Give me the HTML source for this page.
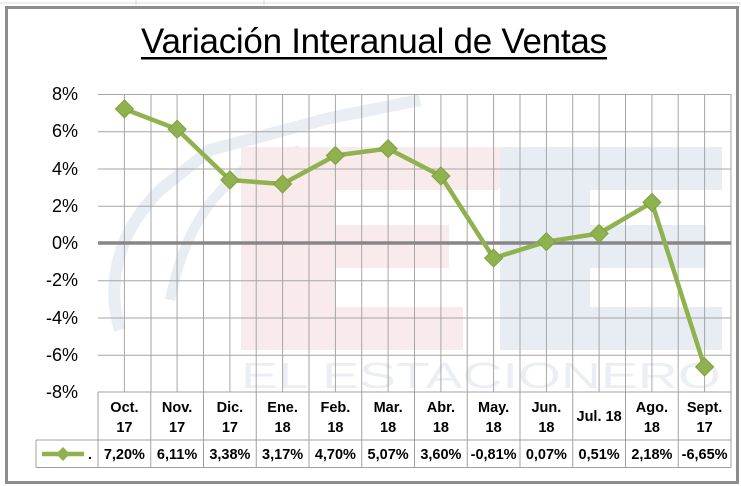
<!DOCTYPE html>
<html><head><meta charset="utf-8"><style>
html,body{margin:0;padding:0;background:#fff;width:741px;height:486px;overflow:hidden}
</style></head><body>
<svg width="741" height="486" viewBox="0 0 741 486" xmlns="http://www.w3.org/2000/svg" font-family="'Liberation Sans', sans-serif">
<rect x="0" y="0" width="741" height="486" fill="#fff"/>
<g stroke="#dcdcdc" stroke-width="1">
<line x1="0" y1="3" x2="741" y2="3"/><line x1="136" y1="0" x2="136" y2="7"/><line x1="264" y1="0" x2="264" y2="7"/>
</g>
<rect x="6.5" y="7.5" width="731" height="475" fill="#fff" stroke="#8c8c8c" stroke-width="3"/>
<text x="374" y="53" font-size="35" text-anchor="middle" textLength="466" lengthAdjust="spacing">Variación  Interanual  de  Ventas</text>
<rect x="141" y="57" width="466" height="2.5" fill="#000"/>
<!-- watermark -->
<g opacity="0.5">
<path d="M120,330 C105,280 120,230 160,190 L210,150 L330,118 L420,100" fill="none" stroke="#d3dcea" stroke-width="12"/>
<path d="M170,300 C180,250 200,200 250,165 L300,150" fill="none" stroke="#d3dcea" stroke-width="10"/>
<g fill="#f5d6da">
<rect x="241" y="147" width="95" height="203"/>
<polygon points="241,147 528,147 498,190 241,190"/>
<rect x="241" y="225" width="208" height="43"/>
<rect x="241" y="307" width="222" height="43"/>
</g>
<g fill="#d3dcea">
<rect x="500" y="147" width="90" height="203"/>
<rect x="500" y="147" width="222" height="43"/>
<rect x="500" y="225" width="206" height="43"/>
<rect x="500" y="307" width="222" height="43"/>
</g>
<text x="241" y="388" font-size="36" fill="#d9e0ec" textLength="480" lengthAdjust="spacingAndGlyphs">EL ESTACIONERO</text>
</g>
<!-- grid -->
<g stroke="#a6a6a6" stroke-width="1">
<line x1="98" y1="94.5" x2="731" y2="94.5"/>
<line x1="98" y1="131.7" x2="731" y2="131.7"/>
<line x1="98" y1="169" x2="731" y2="169"/>
<line x1="98" y1="206.2" x2="731" y2="206.2"/>
<line x1="98" y1="280.7" x2="731" y2="280.7"/>
<line x1="98" y1="318" x2="731" y2="318"/>
<line x1="98" y1="355.2" x2="731" y2="355.2"/>
<line x1="124.4" y1="94" x2="124.4" y2="392"/><line x1="151" y1="94" x2="151" y2="392"/>
<line x1="177.1" y1="94" x2="177.1" y2="392"/><line x1="203.5" y1="94" x2="203.5" y2="392"/>
<line x1="229.9" y1="94" x2="229.9" y2="392"/><line x1="256.2" y1="94" x2="256.2" y2="392"/>
<line x1="282.6" y1="94" x2="282.6" y2="392"/><line x1="309" y1="94" x2="309" y2="392"/>
<line x1="335.4" y1="94" x2="335.4" y2="392"/><line x1="361.7" y1="94" x2="361.7" y2="392"/>
<line x1="388.1" y1="94" x2="388.1" y2="392"/><line x1="414.5" y1="94" x2="414.5" y2="392"/>
<line x1="440.9" y1="94" x2="440.9" y2="392"/><line x1="467.2" y1="94" x2="467.2" y2="392"/>
<line x1="493.6" y1="94" x2="493.6" y2="392"/><line x1="520" y1="94" x2="520" y2="392"/>
<line x1="546.4" y1="94" x2="546.4" y2="392"/><line x1="572.7" y1="94" x2="572.7" y2="392"/>
<line x1="599.1" y1="94" x2="599.1" y2="392"/><line x1="625.5" y1="94" x2="625.5" y2="392"/>
<line x1="651.9" y1="94" x2="651.9" y2="392"/><line x1="678.2" y1="94" x2="678.2" y2="392"/>
<line x1="704.6" y1="94" x2="704.6" y2="392"/><line x1="731" y1="94" x2="731" y2="392"/>
</g>
<line x1="98" y1="243" x2="731" y2="243" stroke="#878787" stroke-width="3.5"/>
<!-- y labels -->
<g font-size="18" text-anchor="end" fill="#000">
<text x="78" y="100">8%</text><text x="78" y="137">6%</text><text x="78" y="175">4%</text>
<text x="78" y="212">2%</text><text x="78" y="249">0%</text><text x="78" y="286">-2%</text>
<text x="78" y="324">-4%</text><text x="78" y="361">-6%</text><text x="78" y="398">-8%</text>
</g>
<!-- series -->
<polyline fill="none" stroke="#8fb24e" stroke-width="4.5" stroke-linejoin="round" points="124.4,108.9 177.1,129.2 229.9,180 282.6,184 335.4,155.5 388.1,148.6 440.9,176 493.6,258.1 546.4,241.7 599.1,233.5 651.9,202.4 704.6,366.9"/>
<g fill="#8fb24e" stroke="#7fa040" stroke-width="1">
<polygon points="124.4,99.9 133.4,108.9 124.4,117.9 115.4,108.9"/>
<polygon points="177.1,120.2 186.1,129.2 177.1,138.2 168.1,129.2"/>
<polygon points="229.9,171 238.9,180 229.9,189 220.9,180"/>
<polygon points="282.6,175 291.6,184 282.6,193 273.6,184"/>
<polygon points="335.4,146.5 344.4,155.5 335.4,164.5 326.4,155.5"/>
<polygon points="388.1,139.6 397.1,148.6 388.1,157.6 379.1,148.6"/>
<polygon points="440.9,167 449.9,176 440.9,185 431.9,176"/>
<polygon points="493.6,249.1 502.6,258.1 493.6,267.1 484.6,258.1"/>
<polygon points="546.4,232.7 555.4,241.7 546.4,250.7 537.4,241.7"/>
<polygon points="599.1,224.5 608.1,233.5 599.1,242.5 590.1,233.5"/>
<polygon points="651.9,193.4 660.9,202.4 651.9,211.4 642.9,202.4"/>
<polygon points="704.6,357.9 713.6,366.9 704.6,375.9 695.6,366.9"/>
</g>
<!-- table -->
<g stroke="#a0a0a0" stroke-width="1" fill="none">
<line x1="98" y1="392" x2="731" y2="392"/>
<line x1="36" y1="440" x2="731" y2="440"/>
<line x1="36" y1="467.5" x2="731" y2="467.5"/>
<line x1="36" y1="440" x2="36" y2="467.5"/>
<line x1="98" y1="392" x2="98" y2="467.5"/><line x1="150.75" y1="392" x2="150.75" y2="467.5"/>
<line x1="203.5" y1="392" x2="203.5" y2="467.5"/><line x1="256.25" y1="392" x2="256.25" y2="467.5"/>
<line x1="309" y1="392" x2="309" y2="467.5"/><line x1="361.75" y1="392" x2="361.75" y2="467.5"/>
<line x1="414.5" y1="392" x2="414.5" y2="467.5"/><line x1="467.25" y1="392" x2="467.25" y2="467.5"/>
<line x1="520" y1="392" x2="520" y2="467.5"/><line x1="572.75" y1="392" x2="572.75" y2="467.5"/>
<line x1="625.5" y1="392" x2="625.5" y2="467.5"/><line x1="678.25" y1="392" x2="678.25" y2="467.5"/>
<line x1="731" y1="392" x2="731" y2="467.5"/>
</g>
<line x1="42" y1="454" x2="84" y2="454" stroke="#8fb24e" stroke-width="4.5"/>
<polygon points="63,447 70,454 63,461 56,454" fill="#8fb24e"/>
<text x="88" y="459" font-size="14" font-weight="bold">.</text>
<g font-size="14.5" font-weight="bold" text-anchor="middle" fill="#000">
<text x="124.4" y="412">Oct.</text><text x="124.4" y="432">17</text>
<text x="177.1" y="412">Nov.</text><text x="177.1" y="432">17</text>
<text x="229.9" y="412">Dic.</text><text x="229.9" y="432">17</text>
<text x="282.6" y="412">Ene.</text><text x="282.6" y="432">18</text>
<text x="335.4" y="412">Feb.</text><text x="335.4" y="432">18</text>
<text x="388.1" y="412">Mar.</text><text x="388.1" y="432">18</text>
<text x="440.9" y="412">Abr.</text><text x="440.9" y="432">18</text>
<text x="493.6" y="412">May.</text><text x="493.6" y="432">18</text>
<text x="546.4" y="412">Jun.</text><text x="546.4" y="432">18</text>
<text x="599.1" y="421">Jul. 18</text>
<text x="651.9" y="412">Ago.</text><text x="651.9" y="432">18</text>
<text x="704.6" y="412">Sept.</text><text x="704.6" y="432">17</text>
<text x="124.4" y="459">7,20%</text><text x="177.1" y="459">6,11%</text>
<text x="229.9" y="459">3,38%</text><text x="282.6" y="459">3,17%</text>
<text x="335.4" y="459">4,70%</text><text x="388.1" y="459">5,07%</text>
<text x="440.9" y="459">3,60%</text><text x="493.6" y="459">-0,81%</text>
<text x="546.4" y="459">0,07%</text><text x="599.1" y="459">0,51%</text>
<text x="651.9" y="459">2,18%</text><text x="704.6" y="459">-6,65%</text>
</g>
</svg>
</body></html>
